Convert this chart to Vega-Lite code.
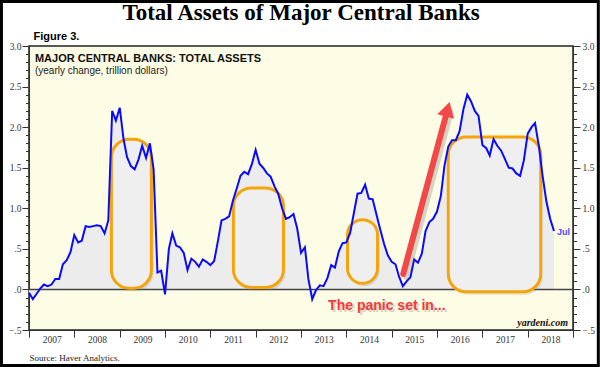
{
  "$schema": "https://vega.github.io/schema/vega-lite/v6.json",
  "width": 544,
  "height": 284,
  "autosize": "none",
  "padding": {"left": 29, "top": 46, "right": 27, "bottom": 37},
  "background": "white",
  "config": {
    "view": {"fill": "#fdfce4", "stroke": "#222222", "strokeWidth": 1.5},
    "axis": {"labelFont": "Liberation Serif", "labelFontSize": 9.5, "labelColor": "#333333", "tickColor": "#333333", "domainColor": "#333333", "grid": false}
  },
  "datasets": {
    "assets": [
      {"date": "2007-01-01", "value": -0.04}, {"date": "2007-02-01", "value": -0.12}, {"date": "2007-03-01", "value": -0.06}, {"date": "2007-04-01", "value": 0.01},
      {"date": "2007-05-01", "value": 0.06}, {"date": "2007-06-01", "value": 0.04}, {"date": "2007-07-01", "value": 0.06}, {"date": "2007-08-01", "value": 0.13},
      {"date": "2007-09-01", "value": 0.13}, {"date": "2007-10-01", "value": 0.31}, {"date": "2007-11-01", "value": 0.36}, {"date": "2007-12-01", "value": 0.46},
      {"date": "2008-01-01", "value": 0.67}, {"date": "2008-02-01", "value": 0.58}, {"date": "2008-03-01", "value": 0.60}, {"date": "2008-04-01", "value": 0.78},
      {"date": "2008-05-01", "value": 0.77}, {"date": "2008-06-01", "value": 0.78}, {"date": "2008-07-01", "value": 0.79}, {"date": "2008-08-01", "value": 0.78},
      {"date": "2008-09-01", "value": 0.69}, {"date": "2008-10-01", "value": 0.85}, {"date": "2008-11-01", "value": 2.20}, {"date": "2008-12-01", "value": 2.08},
      {"date": "2009-01-01", "value": 2.24}, {"date": "2009-02-01", "value": 1.85}, {"date": "2009-03-01", "value": 1.63}, {"date": "2009-04-01", "value": 1.52},
      {"date": "2009-05-01", "value": 1.48}, {"date": "2009-06-01", "value": 1.60}, {"date": "2009-07-01", "value": 1.77}, {"date": "2009-08-01", "value": 1.62},
      {"date": "2009-09-01", "value": 1.80}, {"date": "2009-10-01", "value": 1.48}, {"date": "2009-11-01", "value": 0.21}, {"date": "2009-12-01", "value": 0.23},
      {"date": "2010-01-01", "value": -0.06}, {"date": "2010-02-01", "value": 0.50}, {"date": "2010-03-01", "value": 0.69}, {"date": "2010-04-01", "value": 0.54},
      {"date": "2010-05-01", "value": 0.52}, {"date": "2010-06-01", "value": 0.45}, {"date": "2010-07-01", "value": 0.24}, {"date": "2010-08-01", "value": 0.38},
      {"date": "2010-09-01", "value": 0.34}, {"date": "2010-10-01", "value": 0.28}, {"date": "2010-11-01", "value": 0.37}, {"date": "2010-12-01", "value": 0.34},
      {"date": "2011-01-01", "value": 0.30}, {"date": "2011-02-01", "value": 0.35}, {"date": "2011-03-01", "value": 0.58}, {"date": "2011-04-01", "value": 0.85},
      {"date": "2011-05-01", "value": 0.87}, {"date": "2011-06-01", "value": 0.90}, {"date": "2011-07-01", "value": 1.09}, {"date": "2011-08-01", "value": 1.24},
      {"date": "2011-09-01", "value": 1.40}, {"date": "2011-10-01", "value": 1.45}, {"date": "2011-11-01", "value": 1.42}, {"date": "2011-12-01", "value": 1.54},
      {"date": "2012-01-01", "value": 1.72}, {"date": "2012-02-01", "value": 1.55}, {"date": "2012-03-01", "value": 1.50}, {"date": "2012-04-01", "value": 1.43},
      {"date": "2012-05-01", "value": 1.39}, {"date": "2012-06-01", "value": 1.27}, {"date": "2012-07-01", "value": 1.18}, {"date": "2012-08-01", "value": 1.00},
      {"date": "2012-09-01", "value": 0.87}, {"date": "2012-10-01", "value": 0.89}, {"date": "2012-11-01", "value": 0.93}, {"date": "2012-12-01", "value": 0.75},
      {"date": "2013-01-01", "value": 0.45}, {"date": "2013-02-01", "value": 0.52}, {"date": "2013-03-01", "value": 0.13}, {"date": "2013-04-01", "value": -0.12},
      {"date": "2013-05-01", "value": -0.01}, {"date": "2013-06-01", "value": 0.05}, {"date": "2013-07-01", "value": 0.04}, {"date": "2013-08-01", "value": 0.14},
      {"date": "2013-09-01", "value": 0.30}, {"date": "2013-10-01", "value": 0.27}, {"date": "2013-11-01", "value": 0.47}, {"date": "2013-12-01", "value": 0.57},
      {"date": "2014-01-01", "value": 0.58}, {"date": "2014-02-01", "value": 0.70}, {"date": "2014-03-01", "value": 0.93}, {"date": "2014-04-01", "value": 1.18},
      {"date": "2014-05-01", "value": 1.19}, {"date": "2014-06-01", "value": 1.29}, {"date": "2014-07-01", "value": 1.12}, {"date": "2014-08-01", "value": 1.11},
      {"date": "2014-09-01", "value": 0.92}, {"date": "2014-10-01", "value": 0.74}, {"date": "2014-11-01", "value": 0.56}, {"date": "2014-12-01", "value": 0.42},
      {"date": "2015-01-01", "value": 0.34}, {"date": "2015-02-01", "value": 0.31}, {"date": "2015-03-01", "value": 0.16}, {"date": "2015-04-01", "value": 0.04},
      {"date": "2015-05-01", "value": 0.10}, {"date": "2015-06-01", "value": 0.15}, {"date": "2015-07-01", "value": 0.37}, {"date": "2015-08-01", "value": 0.33},
      {"date": "2015-09-01", "value": 0.44}, {"date": "2015-10-01", "value": 0.72}, {"date": "2015-11-01", "value": 0.83}, {"date": "2015-12-01", "value": 0.87},
      {"date": "2016-01-01", "value": 0.96}, {"date": "2016-02-01", "value": 1.15}, {"date": "2016-03-01", "value": 1.52}, {"date": "2016-04-01", "value": 1.76},
      {"date": "2016-05-01", "value": 1.84}, {"date": "2016-06-01", "value": 1.84}, {"date": "2016-07-01", "value": 1.95}, {"date": "2016-08-01", "value": 2.22},
      {"date": "2016-09-01", "value": 2.40}, {"date": "2016-10-01", "value": 2.32}, {"date": "2016-11-01", "value": 2.20}, {"date": "2016-12-01", "value": 2.14},
      {"date": "2017-01-01", "value": 1.78}, {"date": "2017-02-01", "value": 1.74}, {"date": "2017-03-01", "value": 1.65}, {"date": "2017-04-01", "value": 1.85},
      {"date": "2017-05-01", "value": 1.77}, {"date": "2017-06-01", "value": 1.71}, {"date": "2017-07-01", "value": 1.61}, {"date": "2017-08-01", "value": 1.50},
      {"date": "2017-09-01", "value": 1.49}, {"date": "2017-10-01", "value": 1.43}, {"date": "2017-11-01", "value": 1.40}, {"date": "2017-12-01", "value": 1.59},
      {"date": "2018-01-01", "value": 1.92}, {"date": "2018-02-01", "value": 2.00}, {"date": "2018-03-01", "value": 2.05}, {"date": "2018-04-01", "value": 1.77},
      {"date": "2018-05-01", "value": 1.40}, {"date": "2018-06-01", "value": 1.08}, {"date": "2018-07-01", "value": 0.87}, {"date": "2018-08-01", "value": 0.72}
    ],
    "boxes": [
      {"start": "2008-10-26", "end": "2009-09-13", "top": 1.85, "bottom": 0.015},
      {"start": "2011-07-06", "end": "2012-08-12", "top": 1.25, "bottom": 0.025},
      {"start": "2014-01-10", "end": "2014-09-09", "top": 0.86, "bottom": 0.075},
      {"start": "2016-04-01", "end": "2018-04-16", "top": 1.88, "bottom": -0.03}
    ],
    "arrow": [
      {"from": "2015-04-04", "to": "2016-03-27", "v0": 0.19, "v1": 2.22}
    ]
  },
  "resolve": {"axis": {"x": "independent", "y": "independent"}},
  "layer": [
    {
      "data": {"name": "assets"},
      "mark": {"type": "area", "fill": "#ececec", "opacity": 1},
      "encoding": {
        "x": {
          "field": "date", "type": "temporal", "title": null,
          "scale": {"type": "utc", "nice": false, "domain": [{"year": 2007, "month": 1, "date": 1, "utc": true}, {"year": 2019, "month": 1, "date": 1, "utc": true}]},
          "axis": {
            "orient": "bottom", "tickSize": 7, "labelOffset": 22.7, "labelPadding": -3, "labelFlush": false, "labelOverlap": false,
            "labelExpr": "utcyear(datum.value) >= 2019 ? '' : '' + utcyear(datum.value)",
            "values": [
              {"year": 2007, "month": 1, "date": 1, "utc": true}, {"year": 2008, "month": 1, "date": 1, "utc": true},
              {"year": 2009, "month": 1, "date": 1, "utc": true}, {"year": 2010, "month": 1, "date": 1, "utc": true},
              {"year": 2011, "month": 1, "date": 1, "utc": true}, {"year": 2012, "month": 1, "date": 1, "utc": true},
              {"year": 2013, "month": 1, "date": 1, "utc": true}, {"year": 2014, "month": 1, "date": 1, "utc": true},
              {"year": 2015, "month": 1, "date": 1, "utc": true}, {"year": 2016, "month": 1, "date": 1, "utc": true},
              {"year": 2017, "month": 1, "date": 1, "utc": true}, {"year": 2018, "month": 1, "date": 1, "utc": true},
              {"year": 2019, "month": 1, "date": 1, "utc": true}
            ]
          }
        },
        "y": {
          "field": "value", "type": "quantitative", "title": null,
          "scale": {"domain": [-0.5, 3], "nice": false, "zero": false},
          "axis": {"orient": "left", "values": [-0.5, 0, 0.5, 1, 1.5, 2, 2.5, 3], "tickSize": 7, "labelPadding": 1, "labelExpr": "replace(format(datum.value, '.1f'), '0.', '.')"}
        },
        "y2": {"datum": 0}
      }
    },
    {
      "data": {"values": [{}]},
      "mark": {"type": "rule", "color": "#444444", "strokeWidth": 1.5},
      "encoding": {"y": {"datum": 0, "type": "quantitative", "axis": null}}
    },
    {
      "data": {"name": "boxes"},
      "mark": {"type": "rect", "fill": "#888888", "opacity": 0.22, "cornerRadius": 18, "xOffset": 2, "x2Offset": 2, "yOffset": 3, "y2Offset": 3},
      "encoding": {
        "x": {"field": "start", "type": "temporal", "axis": null},
        "x2": {"field": "end"},
        "y": {"field": "top", "type": "quantitative", "title": null,
          "axis": {"orient": "left", "labels": false, "domain": false, "tickSize": 3.5,
            "values": [-0.4, -0.3, -0.2, -0.1, 0.1, 0.2, 0.3, 0.4, 0.6, 0.7, 0.8, 0.9, 1.1, 1.2, 1.3, 1.4, 1.6, 1.7, 1.8, 1.9, 2.1, 2.2, 2.3, 2.4, 2.6, 2.7, 2.8, 2.9]}},
        "y2": {"field": "bottom"}
      }
    },
    {
      "data": {"name": "boxes"},
      "mark": {"type": "rect", "fill": "#efefef", "stroke": "#f5a50a", "strokeWidth": 3, "cornerRadius": 18},
      "encoding": {
        "x": {"field": "start", "type": "temporal", "axis": null},
        "x2": {"field": "end"},
        "y": {"field": "top", "type": "quantitative", "title": null,
          "axis": {"orient": "right", "labels": false, "domain": false, "tickSize": 3.5,
            "values": [-0.4, -0.3, -0.2, -0.1, 0.1, 0.2, 0.3, 0.4, 0.6, 0.7, 0.8, 0.9, 1.1, 1.2, 1.3, 1.4, 1.6, 1.7, 1.8, 1.9, 2.1, 2.2, 2.3, 2.4, 2.6, 2.7, 2.8, 2.9]}},
        "y2": {"field": "bottom"}
      }
    },
    {
      "data": {"name": "assets"},
      "mark": {"type": "line", "color": "#0a0aff", "strokeWidth": 2},
      "encoding": {
        "x": {"field": "date", "type": "temporal", "axis": null},
        "y": {"field": "value", "type": "quantitative", "title": null,
          "axis": {"orient": "right", "values": [-0.5, 0, 0.5, 1, 1.5, 2, 2.5, 3], "tickSize": 7, "labelPadding": 2, "labelExpr": "replace(format(datum.value, '.1f'), '0.', '.')"}}
      }
    },
    {
      "data": {"name": "arrow"},
      "mark": {"type": "rule", "color": "#777777", "opacity": 0.3, "strokeWidth": 6, "strokeCap": "round", "xOffset": 3, "x2Offset": 3, "yOffset": 3, "y2Offset": 3},
      "encoding": {
        "x": {"field": "from", "type": "temporal", "axis": null},
        "x2": {"field": "to"},
        "y": {"field": "v0", "type": "quantitative", "axis": null},
        "y2": {"field": "v1"}
      }
    },
    {
      "data": {"name": "arrow"},
      "mark": {"type": "rule", "color": "#f24848", "strokeWidth": 6, "strokeCap": "round"},
      "encoding": {
        "x": {"field": "from", "type": "temporal", "axis": null},
        "x2": {"field": "to"},
        "y": {"field": "v0", "type": "quantitative", "axis": null},
        "y2": {"field": "v1"}
      }
    },
    {
      "data": {"name": "arrow"},
      "mark": {"type": "point", "shape": "triangle-up", "size": 300, "angle": 15, "filled": true, "fill": "#f24848", "opacity": 1, "strokeWidth": 0},
      "encoding": {
        "x": {"field": "to", "type": "temporal", "axis": null},
        "y": {"field": "v1", "type": "quantitative", "axis": null}
      }
    },
    {
      "data": {"values": [{}]},
      "mark": {"type": "text", "text": "Total Assets of Major Central Banks", "font": "Liberation Serif", "fontSize": 23, "fontWeight": "bold", "color": "#000000", "align": "center", "baseline": "alphabetic"},
      "encoding": {
        "x": {"datum": {"year": 2013, "month": 1, "date": 1, "utc": true}, "type": "temporal", "axis": null},
        "y": {"datum": 3.32, "type": "quantitative", "axis": null}
      }
    },
    {
      "data": {"values": [{}]},
      "mark": {"type": "text", "text": "Figure 3.", "font": "Liberation Sans", "fontSize": 11, "fontWeight": "bold", "color": "#000000", "align": "left", "baseline": "alphabetic"},
      "encoding": {
        "x": {"datum": {"year": 2007, "month": 2, "date": 6, "utc": true}, "type": "temporal", "axis": null},
        "y": {"datum": 3.074, "type": "quantitative", "axis": null}
      }
    },
    {
      "data": {"values": [{}]},
      "mark": {"type": "text", "text": "MAJOR CENTRAL BANKS: TOTAL ASSETS", "font": "Liberation Sans", "fontSize": 11, "fontWeight": "bold", "color": "#111111", "align": "left", "baseline": "alphabetic"},
      "encoding": {
        "x": {"datum": {"year": 2007, "month": 2, "date": 18, "utc": true}, "type": "temporal", "axis": null},
        "y": {"datum": 2.803, "type": "quantitative", "axis": null}
      }
    },
    {
      "data": {"values": [{}]},
      "mark": {"type": "text", "text": "(yearly change, trillion dollars)", "font": "Liberation Sans", "fontSize": 10, "color": "#222222", "align": "left", "baseline": "alphabetic"},
      "encoding": {
        "x": {"datum": {"year": 2007, "month": 2, "date": 18, "utc": true}, "type": "temporal", "axis": null},
        "y": {"datum": 2.661, "type": "quantitative", "axis": null}
      }
    },
    {
      "data": {"values": [{}]},
      "mark": {"type": "text", "text": "Source: Haver Analytics.", "font": "Liberation Serif", "fontSize": 9, "color": "#222222", "align": "left", "baseline": "alphabetic"},
      "encoding": {
        "x": {"datum": {"year": 2007, "month": 1, "date": 5, "utc": true}, "type": "temporal", "axis": null},
        "y": {"datum": -0.882, "type": "quantitative", "axis": null}
      }
    },
    {
      "data": {"values": [{}]},
      "mark": {"type": "text", "text": "yardeni.com", "font": "Liberation Serif", "fontSize": 10, "fontWeight": "bold", "fontStyle": "italic", "color": "#111111", "align": "right", "baseline": "alphabetic"},
      "encoding": {
        "x": {"datum": {"year": 2018, "month": 11, "date": 22, "utc": true}, "type": "temporal", "axis": null},
        "y": {"datum": -0.451, "type": "quantitative", "axis": null}
      }
    },
    {
      "data": {"values": [{}]},
      "mark": {"type": "text", "text": "Jul", "font": "Liberation Sans", "fontSize": 9, "fontWeight": "bold", "color": "#4a4aff", "align": "left", "baseline": "alphabetic"},
      "encoding": {
        "x": {"datum": {"year": 2018, "month": 8, "date": 25, "utc": true}, "type": "temporal", "axis": null},
        "y": {"datum": 0.665, "type": "quantitative", "axis": null}
      }
    },
    {
      "data": {"values": [{}]},
      "mark": {"type": "text", "text": "The panic set in...", "font": "Liberation Sans", "fontSize": 14, "fontWeight": "bold", "color": "#888888", "opacity": 0.35, "dx": 2, "dy": 2, "align": "left", "baseline": "alphabetic"},
      "encoding": {
        "x": {"datum": {"year": 2013, "month": 8, "date": 7, "utc": true}, "type": "temporal", "axis": null},
        "y": {"datum": -0.254, "type": "quantitative", "axis": null}
      }
    },
    {
      "data": {"values": [{}]},
      "mark": {"type": "text", "text": "The panic set in...", "font": "Liberation Sans", "fontSize": 14, "fontWeight": "bold", "color": "#f03c3c", "align": "left", "baseline": "alphabetic"},
      "encoding": {
        "x": {"datum": {"year": 2013, "month": 8, "date": 7, "utc": true}, "type": "temporal", "axis": null},
        "y": {"datum": -0.254, "type": "quantitative", "axis": null}
      }
    },
    {
      "data": {"values": [{}]},
      "mark": {"type": "rect", "fill": null, "fillOpacity": 0, "stroke": "#000000", "strokeWidth": 3},
      "encoding": {
        "x": {"datum": {"year": 2006, "month": 5, "date": 24, "utc": true}, "type": "temporal", "axis": null},
        "x2": {"datum": {"year": 2019, "month": 7, "date": 24, "utc": true}},
        "y": {"datum": 3.548, "type": "quantitative", "axis": null},
        "y2": {"datum": -0.9375}
      }
    }
  ]
}
